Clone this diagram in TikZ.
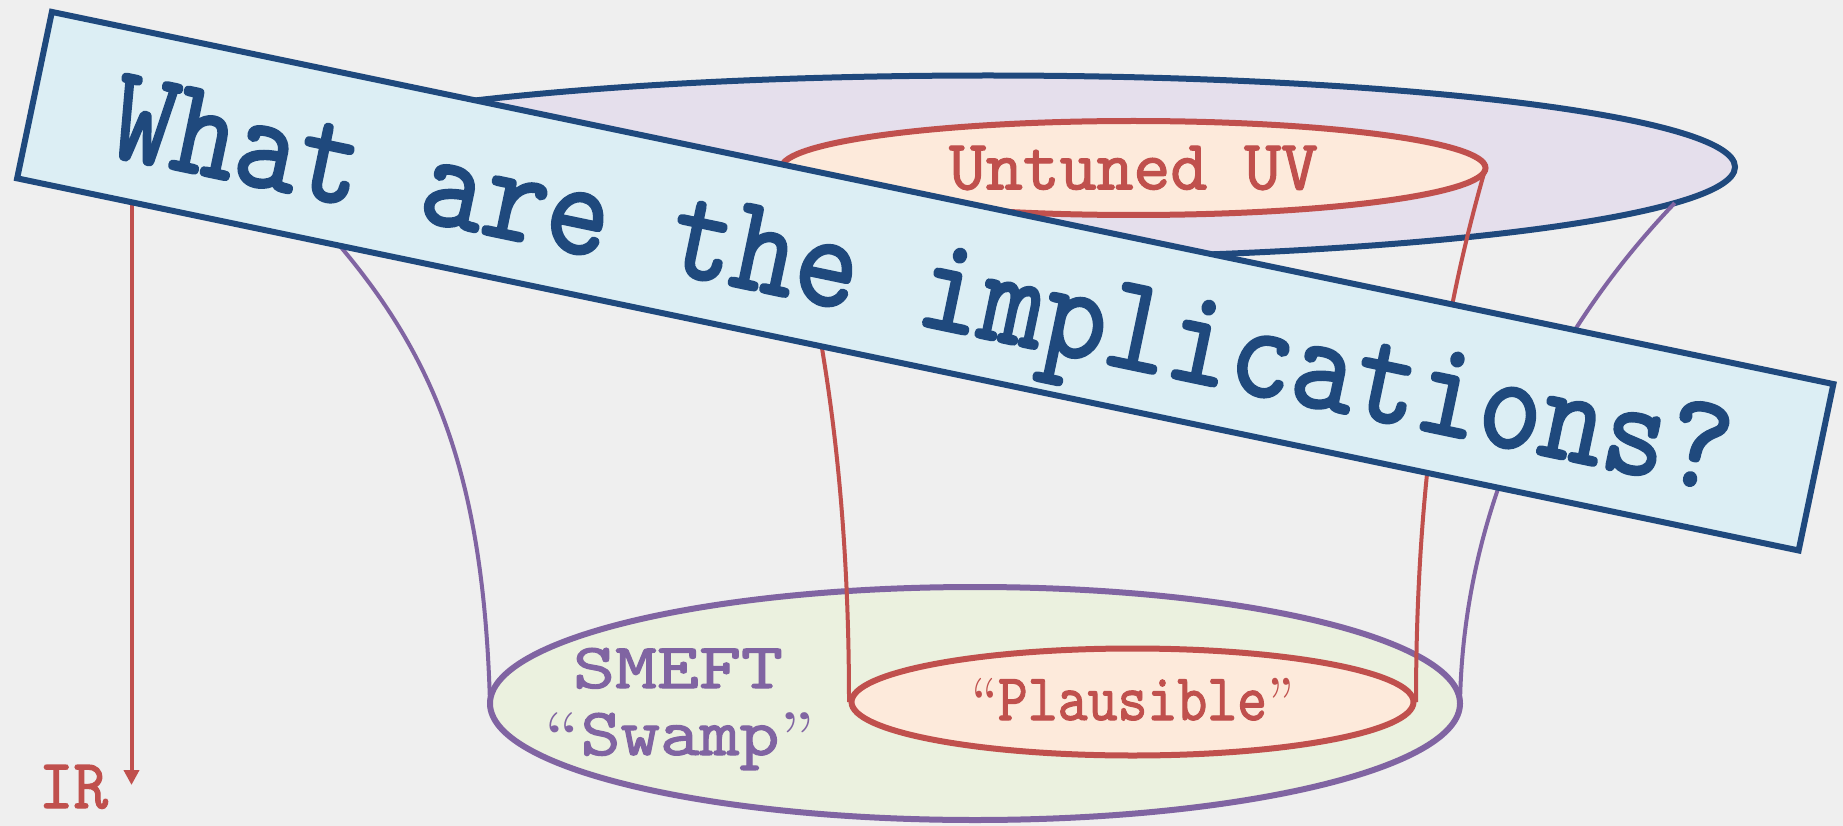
\documentclass[tikz,border=0pt]{standalone}
\usepackage{graphicx}
\usepackage{fontspec}
\newfontfamily\tw{lmmono10-regular.otf}[FakeBold=1.6]
\newfontfamily\twb{lmmono10-regular.otf}[FakeBold=1.6, FakeStretch=0.88]
\newcommand\myLq{\raisebox{-0.07em}{\smash{\rmfamily “}}}
\newcommand\myRq{\raisebox{-0.07em}{\smash{\rmfamily ”}}}
\usetikzlibrary{arrows.meta,shapes.geometric}
\definecolor{bgc}{HTML}{EFEFEF}
\definecolor{dblue}{HTML}{1F497D}
\definecolor{bannerfill}{HTML}{DCEEF4}
\definecolor{lav}{HTML}{E5DFEC}
\definecolor{peach}{HTML}{FDEADB}
\definecolor{redc}{HTML}{C0504D}
\definecolor{greenf}{HTML}{EBF1DF}
\definecolor{purp}{HTML}{8064A2}
\begin{document}
\begin{tikzpicture}[x=1pt,y=-1pt,
  ell/.style={ellipse, inner sep=0pt, outer sep=0pt, line width=6pt},
  redline/.style={redc, line width=4pt},
  purpline/.style={purp, line width=4pt},
  lbl/.style={anchor=base, inner sep=0pt}]
\fill[bgc] (0,0) rectangle (1843,826);
\useasboundingbox (0,0) rectangle (1843,826);

% bottom (IR) ellipse
\node[ell, draw=purp, fill=greenf, minimum width=970pt, minimum height=233pt] (swampE) at (975,703.5) {};
% top (UV) ellipse
\node[ell, draw=dblue, fill=lav, minimum width=1494pt, minimum height=183pt] (top) at (988,167) {};
\node[ell, draw=redc, fill=peach, text=redc, minimum width=704pt, minimum height=94pt] (uv) at (1133.5,168) {\resizebox{369pt}{43.5pt}{\tw Untuned UV}};

% purple flaring sides
\draw[purpline] (top.183.4) .. controls (425,333) and (483,453) .. (swampE.west);
\draw[purpline] (top.-3) .. controls (1540,344) and (1463,520) .. (swampE.east);

% red sides
\draw[redline] (uv.east) .. controls (1444,312) and (1416,480) .. (1416,702) coordinate (pr);
\draw[redline] (uv.west) .. controls (822.5,312) and (849,480) .. (849,702) coordinate (pl);

\node[ell, draw=redc, fill=peach, text=redc, minimum width=562pt, minimum height=107pt] (plaus) at (1132.5,702) {\resizebox{323pt}{40.7pt}{\tw\myLq Plausible\myRq}};

\node[lbl, text=purp] (smeft) at (678,688) {\resizebox{210pt}{40pt}{\tw SMEFT}};
\node[lbl, text=purp] (swamp) at (680,755) {\resizebox{270pt}{42pt}{\tw\myLq Swamp\myRq}};

% IR arrow
\coordinate (irtop) at (131.5,150);
\coordinate (irend) at (131.5,785);
\draw[redc, line width=4pt, -{Triangle[length=15pt,width=15pt]}] (irtop) -- (irend);
\node[lbl, text=redc] (ir) at (73.5,808) {\resizebox{69pt}{43pt}{\tw IR}};

% banner
\begin{scope}[shift={(925.25,281.2)}, rotate=-11.8, transform shape]
  \node[rectangle, draw=dblue, fill=bannerfill, line width=6pt, minimum width=1820pt, minimum height=170pt, inner sep=0pt, outer sep=0pt] (banner) at (0,0) {};
  \node[lbl, text=dblue] (q) at (-2.9,44.2) {\resizebox{1650pt}{!}{\twb What are the implications?}};
\end{scope}
\end{tikzpicture}
\end{document}
